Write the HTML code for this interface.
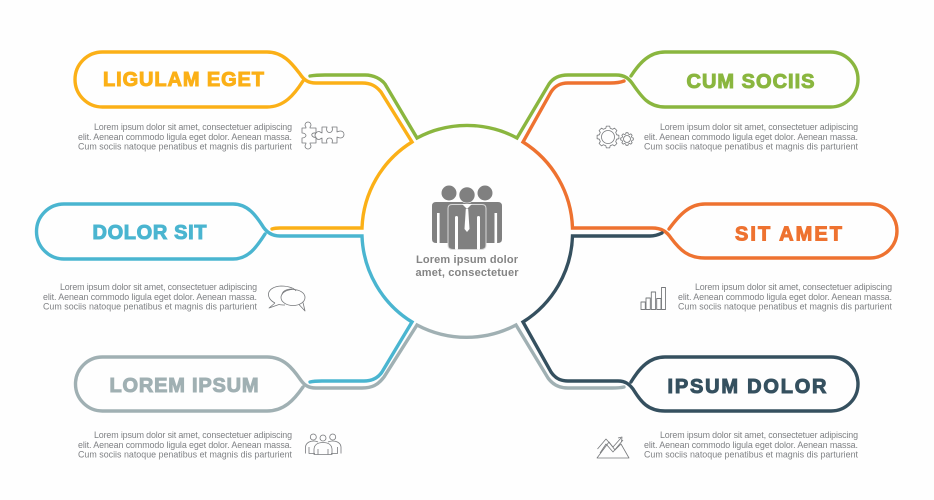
<!DOCTYPE html>
<html>
<head>
<meta charset="utf-8">
<style>
html,body{margin:0;padding:0;background:#fefefe;}
svg{display:block;}
.c{fill:none;stroke-width:3.4;stroke-linejoin:miter;stroke-miterlimit:10;stroke-linecap:round;}
.h{font-family:"Liberation Sans",sans-serif;font-weight:bold;font-size:20px;stroke-width:1;}
.b{font-family:"Liberation Sans",sans-serif;font-size:8.9px;fill:#7f8184;}
.m{font-family:"Liberation Sans",sans-serif;font-weight:bold;font-size:11px;fill:#848484;}
.i{fill:none;stroke:#77797c;stroke-width:.8;stroke-linejoin:round;}
</style>
</head>
<body>
<svg width="934" height="500" viewBox="0 0 934 500" xmlns="http://www.w3.org/2000/svg">
<rect width="934" height="500" fill="#fefefe"/>

<!-- connectors -->
<path class="c" stroke="#8ab63f" d="M310,76 C316,75 320,75 325,75 L365,75 C374,75 381,79 385,84 L417,138 A105.5,105.5 0 0 1 517,138 L549,84 C553,78 560,75 568,75 L616,75 C625,75 629,79 632,83 C641,96 648,107 665,107 L830.5,107 A27.5,27.5 0 0 0 830.5,52 L665,52 C650,52 640,62 631,76"/>
<path class="c" stroke="#fbb017" d="M303,81 C294,95 284,107 267,107 L102.5,107 A27.5,27.5 0 0 1 102.5,52 L267,52 C284,52 293,65 300,74 C304,80 308,83 316,83 L362,83 C371,83 376,86 381,92 L412,142 A105.5,105.5 0 0 0 362,228 L280,228 C277,228 275,228 272,229"/>
<path class="c" stroke="#ee7230" d="M624,81 C619,83 614,83 610,83 L568,83 C560,83 555,86 551,92 L523,142 A105.5,105.5 0 0 1 572.5,228 L652,228 C662,228 667,232 671,238 C680,250 688,258 705,258 L870,258 A27,27 0 0 0 870,204 L705,204 C690,204 680,214 669,229"/>
<path class="c" stroke="#4ab5d0" d="M265,234 C256,248 248,259 233,259 L64,259 A27.5,27.5 0 0 1 64,204 L233,204 C248,204 256,216 262,225 C266,232 272,236 280,236 L362,236 A105.5,105.5 0 0 0 412,322 L382,372 C378,378 372,381 364,381 L322,381 C318,381 314,381 310,382"/>
<path class="c" stroke="#a0b0b3" d="M303,387 C294,400 284,411 267,411 L102.5,411 A27,27 0 0 1 102.5,357 L267,357 C284,357 293,369 300,379 C304,385 308,388 316,388 L362,388 C372,388 378,385 384,377 L417,325 A105.5,105.5 0 0 0 516,325 L548,378 C553,385 560,388 568,388 L612,388 C617,388 620,388 624,387"/>
<path class="c" stroke="#35505f" d="M662,233 C658,235 655,236 650,236 L572.5,236 A105.5,105.5 0 0 1 523,322 L551,372 C555,378 560,381 568,381 L618,381 C626,381 630,385 633,389 C641,402 648,411 665,411 L831,411 A27,27 0 0 0 831,357 L665,357 C650,357 640,367 631,382"/>

<!-- headings -->
<text class="h" x="103" y="86" textLength="161" lengthAdjust="spacing" fill="#fbb017" stroke="#fbb017">LIGULAM EGET</text>
<text class="h" x="686.500" y="88" textLength="128" lengthAdjust="spacing" fill="#8ab63f" stroke="#8ab63f">CUM SOCIIS</text>
<text class="h" x="92.500" y="239" textLength="114" lengthAdjust="spacing" fill="#4ab5d0" stroke="#4ab5d0">DOLOR SIT</text>
<text class="h" x="735" y="240.500" textLength="107" lengthAdjust="spacing" fill="#ee7230" stroke="#ee7230">SIT AMET</text>
<text class="h" x="109.500" y="392" textLength="149" lengthAdjust="spacing" fill="#a0b0b3" stroke="#a0b0b3">LOREM IPSUM</text>
<text class="h" x="667.500" y="393" textLength="159" lengthAdjust="spacing" fill="#35505f" stroke="#35505f">IPSUM DOLOR</text>

<!-- body text -->
<g class="b">
<text x="94" y="130" textLength="198">Lorem ipsum dolor sit amet, consectetuer adipiscing</text>
<text x="78" y="140" textLength="214">elit. Aenean commodo ligula eget dolor. Aenean massa.</text>
<text x="78" y="149.500" textLength="214">Cum sociis natoque penatibus et magnis dis parturient</text>
<text x="660" y="130" textLength="198">Lorem ipsum dolor sit amet, consectetuer adipiscing</text>
<text x="644" y="140" textLength="214">elit. Aenean commodo ligula eget dolor. Aenean massa.</text>
<text x="644" y="149.500" textLength="214">Cum sociis natoque penatibus et magnis dis parturient</text>
<text x="60" y="290" textLength="197">Lorem ipsum dolor sit amet, consectetuer adipiscing</text>
<text x="43" y="300" textLength="214">elit. Aenean commodo ligula eget dolor. Aenean massa.</text>
<text x="43" y="309.500" textLength="214">Cum sociis natoque penatibus et magnis dis parturient</text>
<text x="695" y="290" textLength="197">Lorem ipsum dolor sit amet, consectetuer adipiscing</text>
<text x="678" y="300" textLength="214">elit. Aenean commodo ligula eget dolor. Aenean massa.</text>
<text x="678" y="309.500" textLength="214">Cum sociis natoque penatibus et magnis dis parturient</text>
<text x="94" y="438" textLength="198">Lorem ipsum dolor sit amet, consectetuer adipiscing</text>
<text x="78" y="448" textLength="214">elit. Aenean commodo ligula eget dolor. Aenean massa.</text>
<text x="78" y="457.500" textLength="214">Cum sociis natoque penatibus et magnis dis parturient</text>
<text x="660" y="438" textLength="198">Lorem ipsum dolor sit amet, consectetuer adipiscing</text>
<text x="644" y="448" textLength="214">elit. Aenean commodo ligula eget dolor. Aenean massa.</text>
<text x="644" y="457.500" textLength="214">Cum sociis natoque penatibus et magnis dis parturient</text>
</g>

<!-- centre -->
<g fill="#808080">
<circle cx="449" cy="193" r="7.500"/>
<circle cx="485" cy="193" r="7.500"/>
<path d="M436,202 L498,202 Q502,202 502,206 L502,239 Q502,243 498,243 L436,243 Q432,243 432,239 L432,206 Q432,202 436,202 Z"/>
<rect x="437" y="213" width="2.600" height="30" fill="#fefefe"/>
<rect x="494.500" y="213" width="2.600" height="30" fill="#fefefe"/>
<path d="M452,204.500 L482,204.500 Q486,204.500 486,208.500 L486,245 Q486,249.500 481,249.500 L453,249.500 Q448,249.500 448,245 L448,208.500 Q448,204.500 452,204.500 Z" stroke="#d9d9d9" stroke-width="1"/>
<rect x="455" y="216" width="3" height="34" rx="1.500" fill="#fefefe"/>
<rect x="477" y="216" width="3" height="34" rx="1.500" fill="#fefefe"/>
<circle cx="467" cy="195" r="8" stroke="#fefefe" stroke-width=".6"/>
<path d="M462,204 L467,209 L472,204 Z" fill="#fefefe"/>
<path d="M465.800,209 L468.200,209 L469.500,229 L467,232 L464.500,229 Z" fill="#fefefe"/>
</g>
<text class="m" x="416" y="263" textLength="102">Lorem ipsum dolor</text>
<text class="m" x="415.500" y="276" textLength="103">amet, consectetuer</text>

<!-- puzzle -->
<path class="i" d="M302,128 L306,128 C306,126 305,126 305,125 A3,3 0 1 1 311,125 C311,126 310,126 310,128 L316,128 L316,133 C314,133 313,132.500 312,134 C311,136 314,138 316,137 L316,143 L310,143 C310,145 311,145 311,146 A3,3 0 1 1 305,146 C305,145 306,145 306,143 L302,143 L302,138 C304,138 306,137 306,135.500 C306,134 304,133 302,133 Z"/>
<path class="i" d="M322,127 L327,127 C326,130 327,132.500 329.500,132.500 C332,132.500 333,130 332,127 L337,127 L337,132 C339,131 340,131 340.500,131 A3.500,3.500 0 1 1 340.500,138 C340,138 339,138 337,137 L337,143 L332,143 C333,140 332,138 329.500,138 C327,138 326,140 327,143 L322,143 L322,138 C320,139 319.500,139.500 319,139.500 A4,4 0 1 1 319,131.500 C319.500,131.500 320,132 322,133 Z"/>

<!-- gears -->
<g transform="translate(608,137)"><polygon class="i" points="8.700,-2.200 10.900,-1.700 10.900,1.700 8.700,2.200 7.700,4.600 8.900,6.500 6.500,8.900 4.600,7.700 2.200,8.700 1.700,10.900 -1.700,10.900 -2.200,8.700 -4.600,7.700 -6.500,8.900 -8.900,6.500 -7.700,4.600 -8.700,2.200 -10.900,1.700 -10.900,-1.700 -8.700,-2.200 -7.700,-4.600 -8.900,-6.500 -6.500,-8.900 -4.600,-7.700 -2.200,-8.700 -1.700,-10.900 1.700,-10.900 2.200,-8.700 4.600,-7.700 6.500,-8.900 8.900,-6.500 7.700,-4.600"/><circle class="i" r="6.500"/></g>
<g transform="translate(627,139) scale(.58)"><polygon class="i" style="stroke-width:1.400" points="8.700,-2.200 10.900,-1.700 10.900,1.700 8.700,2.200 7.700,4.600 8.900,6.500 6.500,8.900 4.600,7.700 2.200,8.700 1.700,10.900 -1.700,10.900 -2.200,8.700 -4.600,7.700 -6.500,8.900 -8.900,6.500 -7.700,4.600 -8.700,2.200 -10.900,1.700 -10.900,-1.700 -8.700,-2.200 -7.700,-4.600 -8.900,-6.500 -6.500,-8.900 -4.600,-7.700 -2.200,-8.700 -1.700,-10.900 1.700,-10.900 2.200,-8.700 4.600,-7.700 6.500,-8.900 8.900,-6.500 7.700,-4.600"/><circle class="i" r="6" style="stroke-width:1.400"/></g>

<!-- chat -->
<path class="i" d="M275,303 C265,298 266,287 281,286 C290,286 295,289 296,291 M275,303 L269,308 L279,304.500 C281,305 283,305 285,305"/>
<ellipse class="i" cx="293" cy="297.500" rx="12" ry="8"/>
<path class="i" d="M299,304.500 L305,311 L303,302.500" fill="#fefefe"/>
<path class="i" d="M282,295 C282,291 287,289 292,289"/>

<!-- bars -->
<g class="i" style="stroke-width:.9">
<rect x="641" y="302" width="4.300" height="7.500"/>
<rect x="646" y="298" width="4.300" height="11.500"/>
<rect x="651.300" y="292" width="4.300" height="17.500"/>
<rect x="656.700" y="298.500" width="4.300" height="11"/>
<rect x="661.500" y="287.500" width="4" height="22"/>
</g>

<!-- small people -->
<g class="i">
<circle cx="313.300" cy="437" r="3"/>
<circle cx="323" cy="438" r="3"/>
<circle cx="332.700" cy="437" r="3"/>
<path d="M305.500,453.500 L305.500,447 C306,442 311,441 314,441 C316,441 317,441.500 318,442 M309,447 L309,453.500 L315,453.500"/>
<path d="M341,453.500 L341,447 C340.500,442 335.500,441 332.500,441 C330.500,441 329.500,441.500 328,442 M337.500,447 L337.500,453.500 L331,453.500"/>
<path d="M314,454.500 L314,449 C314.500,444 319,442.500 323,442.500 C327,442.500 331.500,444 332,449 L332,454.500 Z M318,449 L318,454.500 M328,449 L328,454.500"/>
</g>

<!-- mountains -->
<g class="i">
<path d="M597,458 L609,442 L615,450 L621,444 L629,458 Z"/>
<path d="M597.500,449 L606,439 L613,447 L621,438"/>
<path d="M600,453 L606,444 L613,452 L623,440"/>
<path d="M618,438 L622,437 L621.500,442"/>
</g>
</svg>
</body>
</html>
